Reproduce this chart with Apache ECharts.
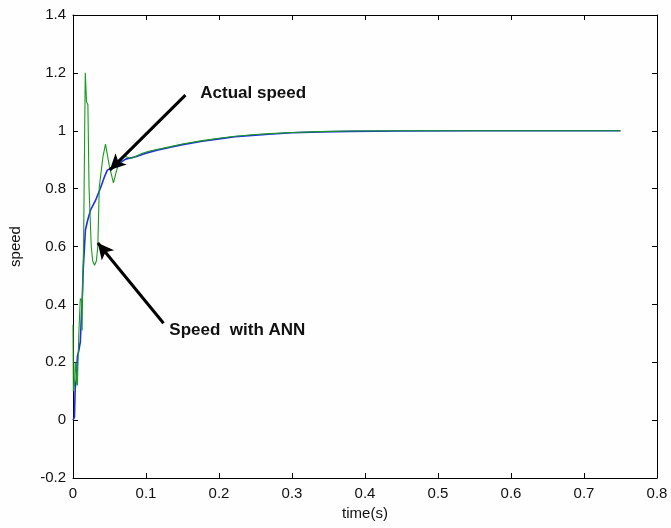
<!DOCTYPE html>
<html>
<head>
<meta charset="utf-8">
<script src="https://cdn.jsdelivr.net/npm/echarts@6/dist/echarts.min.js"></script>
<style>
  html, body { margin: 0; padding: 0; background: #fefefe; }
  #chart { width: 671px; height: 528px; }
</style>
</head>
<body>
<div id="chart"></div>
<script>
// Actual speed response
const timeActual = [0, 0.002, 0.003, 0.005, 0.006, 0.008, 0.010, 0.011, 0.013, 0.014, 0.017, 0.020, 0.024, 0.031, 0.038, 0.043, 0.047, 0.055, 0.062, 0.072, 0.086, 0.100, 0.115, 0.132, 0.150, 0.177, 0.200, 0.222, 0.250, 0.268, 0.300, 0.340, 0.380, 0.450, 0.550, 0.650, 0.750];
const speedActual = [0, 0.01, 0.11, 0.15, 0.22, 0.24, 0.27, 0.33, 0.44, 0.52, 0.657, 0.69, 0.726, 0.76, 0.805, 0.84, 0.864, 0.875, 0.885, 0.902, 0.91, 0.922, 0.933, 0.942, 0.952, 0.964, 0.972, 0.979, 0.985, 0.988, 0.993, 0.996, 0.998, 0.999, 1.0, 1.0, 1.0];

// Speed estimated with the ANN
const timeAnn = [0, 0.0005, 0.002, 0.003, 0.004, 0.005, 0.006, 0.008, 0.010, 0.012, 0.0125, 0.013, 0.0145, 0.016, 0.0168, 0.0185, 0.0204, 0.022, 0.025, 0.027, 0.0295, 0.032, 0.034, 0.036, 0.041, 0.0445, 0.050, 0.0554, 0.061, 0.068, 0.073, 0.079, 0.086, 0.095, 0.105, 0.120, 0.135, 0.150, 0.177, 0.200, 0.222, 0.250, 0.270, 0.300, 0.340, 0.380, 0.450, 0.550, 0.650, 0.750];
const speedAnn = [0.33, 0.10, 0.12, 0.20, 0.18, 0.13, 0.12, 0.30, 0.42, 0.41, 0.31, 0.44, 0.60, 1.0, 1.20, 1.10, 1.09, 0.80, 0.60, 0.55, 0.535, 0.55, 0.60, 0.805, 0.91, 0.954, 0.875, 0.82, 0.875, 0.91, 0.91, 0.904, 0.912, 0.922, 0.93, 0.938, 0.946, 0.954, 0.966, 0.974, 0.981, 0.987, 0.99, 0.994, 0.997, 0.999, 1.0, 1.0, 1.0, 1.0];

// Axis ranges and ticks
const xRange = [0, 0.8, 0.1];
const yRange = [-0.2, 1.4, 0.2];

// Annotations: [text, text anchor, arrow start, arrow tip] in data units
const noteActual = ['Actual speed', [0.1744, 1.13], [0.154, 1.123], [0.0504, 0.864]];
const noteAnn = ['Speed  with ANN', [0.132, 0.31], [0.124, 0.335], [0.034, 0.612]];

const pairs = (xs, ys) => xs.map((x, i) => [x, ys[i]]);

const labelFont = { fontFamily: 'Liberation Sans, Arial, sans-serif', fontSize: 15, color: '#111' };
const axisLine = { show: true, onZero: false, lineStyle: { color: '#000', width: 1 } };
const tickIn = { show: true, inside: true, length: 5, lineStyle: { color: '#000' } };

const chart = echarts.init(document.getElementById('chart'), null, { renderer: 'canvas' });

const note = (n) => ({
  markLine: {
    silent: true,
    symbol: ['none', 'arrow'],
    symbolSize: [12, 16],
    lineStyle: { color: '#000', width: 3, type: 'solid' },
    label: { show: false },
    data: [[{ coord: n[2] }, { coord: n[3] }]]
  },
  markPoint: {
    silent: true,
    symbol: 'circle',
    symbolSize: 0,
    data: [{ coord: n[1], value: n[0] }],
    label: {
      show: true,
      position: 'right',
      distance: 0,
      formatter: n[0],
      fontFamily: 'Liberation Sans, Arial, sans-serif',
      fontWeight: 'bold',
      fontSize: 17,
      color: '#111'
    }
  }
});

chart.setOption({
  animation: false,
  backgroundColor: '#fefefe',
  grid: { left: 70, right: 14, top: 15, bottom: 50 },
  xAxis: [
    {
      type: 'value', min: xRange[0], max: xRange[1], interval: xRange[2],
      position: 'bottom',
      name: 'time(s)', nameLocation: 'middle', nameGap: 28,
      nameTextStyle: labelFont,
      axisLine, axisTick: tickIn,
      axisLabel: Object.assign({ margin: 8 }, labelFont),
      splitLine: { show: false }
    },
    {
      type: 'value', min: xRange[0], max: xRange[1], interval: xRange[2],
      position: 'top',
      axisLine, axisTick: tickIn,
      axisLabel: { show: false },
      splitLine: { show: false }
    }
  ],
  yAxis: [
    {
      type: 'value', min: yRange[0], max: yRange[1], interval: yRange[2],
      position: 'left',
      name: 'speed', nameLocation: 'middle', nameGap: 50, nameRotate: 90,
      nameTextStyle: labelFont,
      axisLine, axisTick: tickIn,
      axisLabel: Object.assign({ margin: 7 }, labelFont),
      splitLine: { show: false }
    },
    {
      type: 'value', min: yRange[0], max: yRange[1], interval: yRange[2],
      position: 'right',
      axisLine, axisTick: tickIn,
      axisLabel: { show: false },
      splitLine: { show: false }
    }
  ],
  series: [
    Object.assign({
      name: 'Actual speed',
      type: 'line',
      data: pairs(timeActual, speedActual),
      showSymbol: false,
      lineStyle: { color: '#1f2fe8', width: 1.6 },
      z: 2
    }, note(noteActual)),
    Object.assign({
      name: 'Speed with ANN',
      type: 'line',
      data: pairs(timeAnn, speedAnn),
      showSymbol: false,
      lineStyle: { color: '#1a9a1a', width: 1.1 },
      z: 3
    }, note(noteAnn))
  ]
});
</script>
</body>
</html>
